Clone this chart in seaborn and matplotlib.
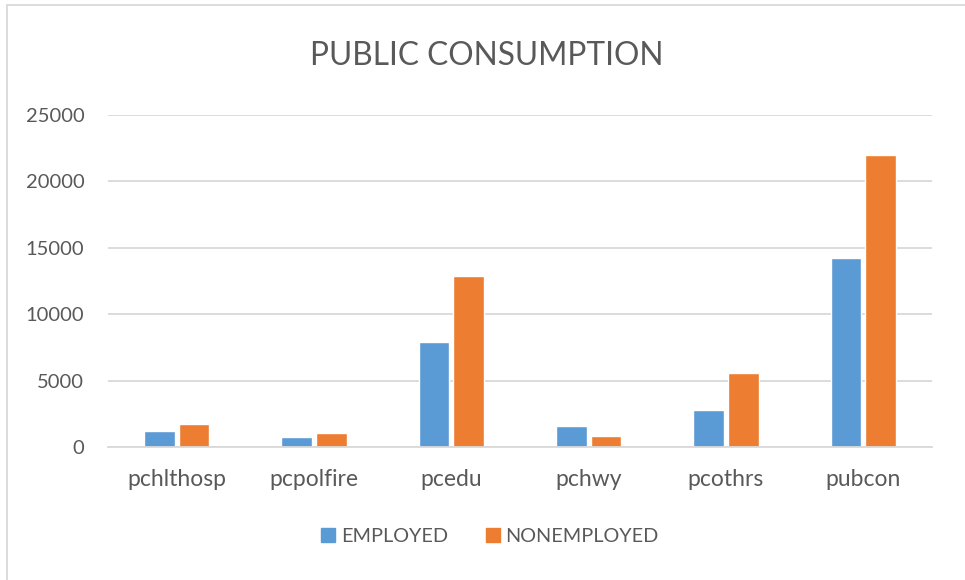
import pandas as pd
import matplotlib
matplotlib.use("Agg")
import matplotlib.pyplot as plt
import seaborn as sns
from matplotlib.patches import Rectangle

# data
categories = ["pchlthosp", "pcpolfire", "pcedu", "pchwy", "pcothrs", "pubcon"]
employed = [1200, 730, 7870, 1560, 2750, 14230]
nonemployed = [1700, 1030, 12880, 810, 5560, 22010]
series = ["EMPLOYED", "NONEMPLOYED"]
yticks = [0, 5000, 10000, 15000, 20000, 25000]

df = pd.DataFrame({
    "category": categories * 2,
    "value": employed + nonemployed,
    "series": [series[0]] * len(categories) + [series[1]] * len(categories),
})

sns.set_theme(style="white")
plt.rcParams["font.family"] = ["Lato", "DejaVu Sans"]
text_col = "#595959"
colors = ["#5B9BD5", "#ED7D31"]

fig = plt.figure(figsize=(9.65, 5.8), dpi=100)
ax = fig.add_axes([108 / 965, 1 - 447 / 580, (932 - 108) / 965, (447 - 115) / 580])

sns.barplot(data=df, x="category", y="value", hue="series", order=categories,
            hue_order=series, palette=colors, saturation=1,
            width=0.507, gap=0.12, ax=ax, legend=True)

ax.set_ylim(0, 25000)
ax.set_xlim(-0.5, len(categories) - 0.5)
ax.set_yticks(yticks)
ax.set_yticklabels([str(t) for t in yticks])
ax.yaxis.grid(True, color="#D9D9D9", linewidth=1.3)
ax.set_axisbelow(True)
for s in ["top", "right", "left"]:
    ax.spines[s].set_visible(False)
ax.spines["bottom"].set_color("#D9D9D9")
ax.spines["bottom"].set_linewidth(1.3)
ax.tick_params(axis="both", length=0, colors=text_col)
ax.tick_params(axis="y", pad=17, labelsize=14.5)
ax.tick_params(axis="x", pad=16, labelsize=16.5)
ax.set_xlabel("")
ax.set_ylabel("")

ax.get_legend().remove()
handles = [Rectangle((0, 0), 1, 1, color=c) for c in colors]
leg = fig.legend(handles, series, loc="center", bbox_to_anchor=(490 / 965, 1 - 536 / 580),
                 ncol=2, frameon=False, fontsize=14.3, handlelength=0.7, handleheight=0.7,
                 handletextpad=0.3, columnspacing=1.9)
for t in leg.get_texts():
    t.set_color(text_col)

fig.text(487 / 965, 1 - 56 / 580, "PUBLIC CONSUMPTION", ha="center", va="center",
         fontsize=22.8, color=text_col)

# chart border (cropped on right and bottom in the reference)
fig.patches.append(Rectangle((7 / 965, -0.05), 1.1, 1 - 5 / 580 + 0.05,
                             transform=fig.transFigure, fill=False,
                             edgecolor="#D9D9D9", linewidth=1.3))

fig.savefig("out.png", dpi=100)
